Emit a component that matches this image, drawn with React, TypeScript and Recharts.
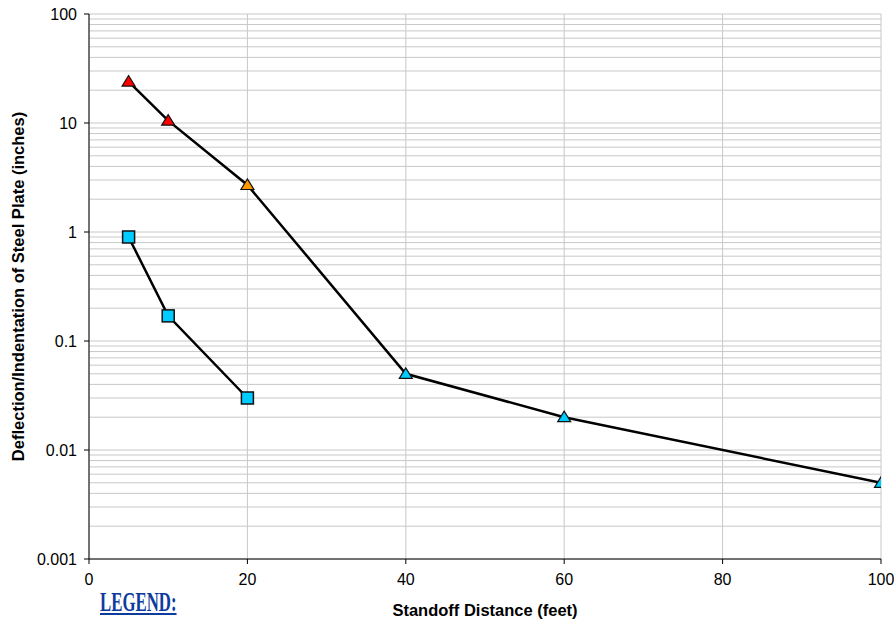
import React from 'react'
import {
  LineChart, Line, XAxis, YAxis, CartesianGrid, ReferenceLine, Label,
} from 'recharts'

// standoff distance (feet)
const triangleX = [5, 10, 20, 40, 60, 100]
const triangleY = [24, 10.5, 2.7, 0.05, 0.02, 0.005]
const triangleColors = ['#ff0000', '#ff0000', '#ff9900', '#00ccff', '#00ccff', '#00ccff']

const squareX = [5, 10, 20]
const squareY = [0.9, 0.17, 0.03]

const xTicks = [0, 20, 40, 60, 80, 100]
const yTicks = [0.001, 0.01, 0.1, 1, 10, 100]
const minorSteps = [2, 3, 4, 5, 6, 7, 8, 9]

const triangleData = triangleX.map((x, i) => ({ x, tri: triangleY[i] }))
const squareData = squareX.map((x, i) => ({ x, sq: squareY[i] }))
const minorGrid = yTicks.slice(0, -1).flatMap(d => minorSteps.map(m => +(d * m).toPrecision(3)))

const font = 'Arial, "Liberation Sans", sans-serif'

function Triangle(props: any) {
  const { cx, cy, index } = props
  if (cx == null || cy == null) return <g key={index} />
  return (
    <polygon
      key={index}
      points={`${cx},${cy - 6} ${cx - 6.5},${cy + 4.5} ${cx + 6.5},${cy + 4.5}`}
      fill={triangleColors[index]}
      stroke="#111"
      strokeWidth={1.2}
    />
  )
}

function Square(props: any) {
  const { cx, cy, index } = props
  if (cx == null || cy == null) return <g key={index} />
  return (
    <rect key={index} x={cx - 6} y={cy - 6} width={12} height={12}
      fill="#00ccff" stroke="#111" strokeWidth={1.5} />
  )
}

export default function App() {
  return (
    <div style={{ position: 'absolute', left: 0, top: 0, width: 894, height: 620, background: '#fff' }}>
      <LineChart width={894} height={620} margin={{ top: 14, right: 13, bottom: 0, left: 0 }}>
        <CartesianGrid stroke="#c8c8c8" strokeWidth={1} />
        {minorGrid.map(v => (
          <ReferenceLine key={v} y={v} stroke="#c8c8c8" strokeWidth={1} />
        ))}
        <XAxis
          dataKey="x"
          type="number"
          domain={[0, 100]}
          ticks={xTicks}
          allowDataOverflow
          height={61}
          stroke="#000"
          tickSize={5}
          tickMargin={10}
          tick={{ fill: '#000', fontSize: 16, fontFamily: font }}
        >
          <Label
            value="Standoff Distance (feet)"
            position="insideBottom"
            offset={4}
            style={{ fontFamily: font, fontSize: 16.5, fontWeight: 'bold', fill: '#000' }}
          />
        </XAxis>
        <YAxis
          type="number"
          scale="log"
          domain={[0.001, 100]}
          ticks={yTicks}
          allowDataOverflow
          width={89}
          stroke="#000"
          tickSize={5}
          tickMargin={7}
          tick={{ fill: '#000', fontSize: 16, fontFamily: font }}
          tickFormatter={(v: number) => String(v)}
        >
          <Label
            value="Deflection/Indentation of Steel Plate (inches)"
            angle={-90}
            position="insideLeft"
            offset={18}
            style={{ textAnchor: 'middle', fontFamily: font, fontSize: 16.5, fontWeight: 'bold', fill: '#000' }}
          />
        </YAxis>
        <Line
          data={triangleData}
          dataKey="tri"
          stroke="#000"
          strokeWidth={2.5}
          dot={Triangle}
          activeDot={false}
          isAnimationActive={false}
        />
        <Line
          data={squareData}
          dataKey="sq"
          stroke="#000"
          strokeWidth={2.5}
          dot={Square}
          activeDot={false}
          isAnimationActive={false}
        />
      </LineChart>
      <div
        style={{
          position: 'absolute', left: 100, top: 587, fontFamily: '"Liberation Serif", "Times New Roman", serif',
          fontWeight: 'bold', fontSize: 28, color: '#0d3b9e', textDecoration: 'underline',
          transform: 'scaleX(0.6)', transformOrigin: 'left top', lineHeight: '30px', whiteSpace: 'nowrap',
        }}
      >
        LEGEND:
      </div>
    </div>
  )
}
